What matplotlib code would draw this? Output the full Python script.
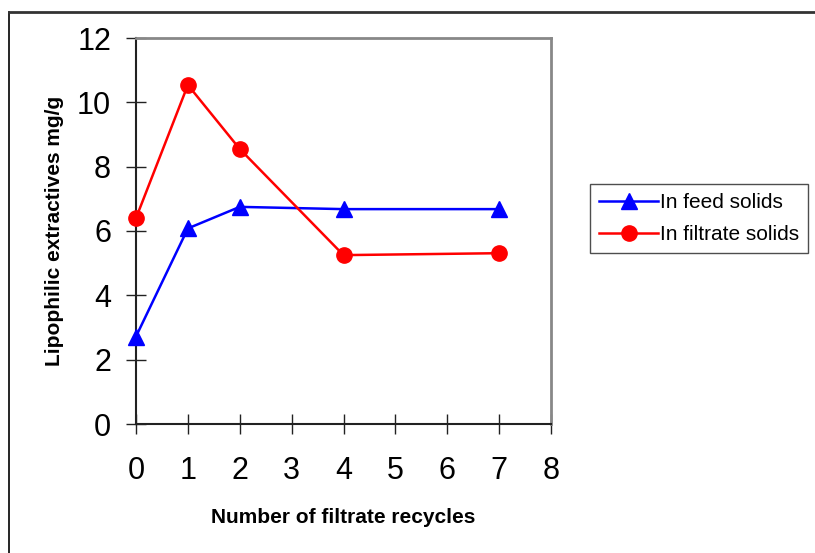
import matplotlib
matplotlib.use("Agg")
import matplotlib.pyplot as plt
from matplotlib.lines import Line2D

plt.rcParams['font.family'] = ['Liberation Sans', 'DejaVu Sans']

recycles = [0, 1, 2, 4, 7]
feed_solids = [2.72, 6.08, 6.75, 6.68, 6.68]
filtrate_solids = [6.40, 10.54, 8.55, 5.25, 5.31]
x_ticks = [0, 1, 2, 3, 4, 5, 6, 7, 8]
y_ticks = [0, 2, 4, 6, 8, 10, 12]

W, H = 815, 553
fig = plt.figure(figsize=(W/100, H/100), dpi=100)
ax = fig.add_axes([136/W, 1-424/H, (551-136)/W, (424-38)/H])

ax.plot(recycles, feed_solids, color='#0000ff', lw=1.8, marker='^', ms=11,
        label='In feed solids', clip_on=False, zorder=3)
ax.plot(recycles, filtrate_solids, color='#ff0000', lw=1.8, marker='o', ms=11,
        label='In filtrate solids', clip_on=False, zorder=3)

ax.set_xlim(0, 8)
ax.set_ylim(0, 12)
ax.set_xticks(x_ticks)
ax.set_yticks(y_ticks)
ax.tick_params(direction='inout', length=14, width=1, color='#222222',
               labelsize=22, pad=11)
ax.tick_params(axis='x', pad=16)

for s in ['left', 'bottom']:
    ax.spines[s].set_color('#222222')
    ax.spines[s].set_linewidth(1.5)
for s in ['top', 'right']:
    ax.spines[s].set_color('#888888')
    ax.spines[s].set_linewidth(2)

ax.set_xlabel('Number of filtrate recycles', fontsize=15, fontweight='bold', labelpad=16)
ax.set_ylabel('Lipophilic extractives mg/g', fontsize=15, fontweight='bold', labelpad=9)

leg = fig.legend(loc='upper left', bbox_to_anchor=(590/W, 1-184/H), fontsize=15,
                 frameon=True, fancybox=False, edgecolor='#222222', borderaxespad=0,
                 handlelength=2.8, borderpad=0.45, labelspacing=0.6, handletextpad=0.1)
leg.get_frame().set_linewidth(1)

fig.add_artist(Line2D([9/W, 9/W], [0, 1-12/H], color='black', lw=1.2,
                      transform=fig.transFigure))
fig.add_artist(Line2D([9/W, 1], [1-12/H, 1-12/H], color='#333333', lw=2,
                      transform=fig.transFigure))

fig.savefig('out.png', dpi=100)
